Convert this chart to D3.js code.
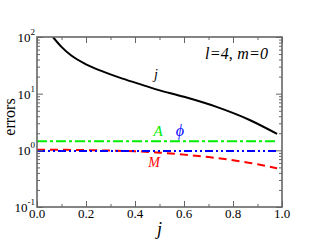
<!DOCTYPE html>
<html>
<head>
<meta charset="utf-8">
<script src="https://cdn.jsdelivr.net/npm/d3@7/dist/d3.min.js"></script>
<style>
  html, body { margin: 0; padding: 0; background: #fff; }
  svg { display: block; }
</style>
</head>
<body>
<svg id="chart" width="317" height="245" font-family="'Liberation Serif', 'Times New Roman', Times, serif"></svg>
<script>
// ---- data ----
const jX      = [0.065, 0.10, 0.14, 0.20, 0.27, 0.34, 0.41, 0.49, 0.60, 0.73, 0.87, 0.98];
const jVals   = [100, 67, 47, 33, 24.5, 19, 15.2, 11.8, 8.8, 5.9, 3.4, 1.95];
const mX      = [0, 0.1, 0.2, 0.3, 0.4, 0.5, 0.6, 0.7, 0.8, 0.9, 0.98];
const mVals   = [1.02, 1.02, 1.01, 0.99, 0.96, 0.91, 0.84, 0.76, 0.67, 0.57, 0.48];
const aX      = [0, 0.98];
const aVals   = [1.45, 1.45];
const phiX    = [0, 0.98];
const phiVals = [0.97, 0.97];
const xTicks  = [0, 0.2, 0.4, 0.6, 0.8, 1.0];
const xTickLabels = ["0.0", "0.2", "0.4", "0.6", "0.8", "1.0"];
const yTicks  = [0.1, 1, 10, 100];
const yTickExp = ["-1", "0", "1", "2"];

// ---- layout ----
const svg = d3.select("#chart");
const L = 37, R = 282, T = 37, B = 207;
const x = d3.scaleLinear().domain([0, 1]).range([L, R]);
const y = d3.scaleLog().domain([0.1, 100]).range([B, T]);
const frameColor = "#666";
const serif = "'Liberation Serif', 'Times New Roman', Times, serif";

svg.append("clipPath").attr("id", "clip")
  .append("rect").attr("x", L).attr("y", T).attr("width", R - L).attr("height", B - T);

const g = svg.append("g").attr("clip-path", "url(#clip)");

function addLine(xs, vs, color, dash, width) {
  const pts = xs.map((d, i) => [d, vs[i]]);
  g.append("path")
    .attr("d", d3.line().x(d => x(d[0])).y(d => y(d[1])).curve(d3.curveMonotoneX)(pts))
    .attr("fill", "none")
    .attr("stroke", color)
    .attr("stroke-width", width)
    .attr("stroke-dasharray", dash);
}
addLine(aX, aVals, "#00ee00", "10,3,3,3", 2);
addLine(mX, mVals, "#ff0000", "8,5", 2);
addLine(phiX, phiVals, "#0000ff", "8,3,2,3,2,3", 2);
addLine(jX, jVals, "#000", null, 2);

// ---- axes ----
const minorY = [];
[0.1, 1, 10].forEach(d => { for (let k = 2; k <= 9; k++) minorY.push(d * k); });
const minorX = d3.range(0.1, 1.0, 0.2);

function axisGroup(axisGen, tx, ty) {
  const a = svg.append("g").attr("transform", `translate(${tx},${ty})`).call(axisGen);
  a.select(".domain").remove();
  a.selectAll("line").attr("stroke", frameColor).attr("stroke-width", 1);
  a.selectAll("text").remove();
  return a;
}
axisGroup(d3.axisBottom(x).tickValues(xTicks).tickSize(-6), 0, B);
axisGroup(d3.axisBottom(x).tickValues(minorX).tickSize(-3), 0, B);
axisGroup(d3.axisTop(x).tickValues(xTicks).tickSize(-6), 0, T);
axisGroup(d3.axisTop(x).tickValues(minorX).tickSize(-3), 0, T);
axisGroup(d3.axisLeft(y).tickValues(yTicks).tickSize(-6), L, 0);
axisGroup(d3.axisLeft(y).tickValues(minorY).tickSize(-3), L, 0);
axisGroup(d3.axisRight(y).tickValues(yTicks).tickSize(-6), R, 0);
axisGroup(d3.axisRight(y).tickValues(minorY).tickSize(-3), R, 0);

svg.append("rect").attr("x", L).attr("y", T).attr("width", R - L).attr("height", B - T)
  .attr("fill", "none").attr("stroke", frameColor).attr("stroke-width", 1.6);

function txt(xp, yp, s, size, opts = {}) {
  return svg.append("text").attr("x", xp).attr("y", yp)
    .attr("font-family", serif).attr("font-size", size)
    .attr("text-anchor", opts.anchor || "middle")
    .attr("font-style", opts.italic ? "italic" : "normal")
    .attr("fill", opts.color || "#000").text(s);
}

// x tick labels
xTicks.forEach((d, i) => txt(x(d), 218, xTickLabels[i], 13));

// y tick labels: 10^n
yTicks.forEach((d, i) => {
  const t = svg.append("text").attr("x", 35).attr("y", y(d) + 5)
    .attr("font-family", serif).attr("text-anchor", "end").attr("font-size", 13).attr("fill", "#000");
  t.append("tspan").text("10");
  t.append("tspan").attr("font-size", 9).attr("dy", -7).text(yTickExp[i]);
});

// axis titles
txt((L + R) / 2, 235, "j", 18, { italic: true });
svg.append("text").attr("transform", "translate(15,117) rotate(-90)")
  .attr("font-family", serif).attr("text-anchor", "middle").attr("font-size", 16).text("errors");

// annotations
txt(205, 59, "l=4, m=0", 16, { italic: true, anchor: "start" })
  .attr("textLength", 63).attr("lengthAdjust", "spacing");
txt(156, 79, "j", 14, { italic: true });
txt(158, 136, "A", 15, { italic: true, color: "#00ee00" });
txt(180, 136, "ϕ", 16, { italic: true, color: "#0000ff" });
txt(154, 167, "M", 14, { italic: true, color: "#ff0000" });
</script>
</body>
</html>
